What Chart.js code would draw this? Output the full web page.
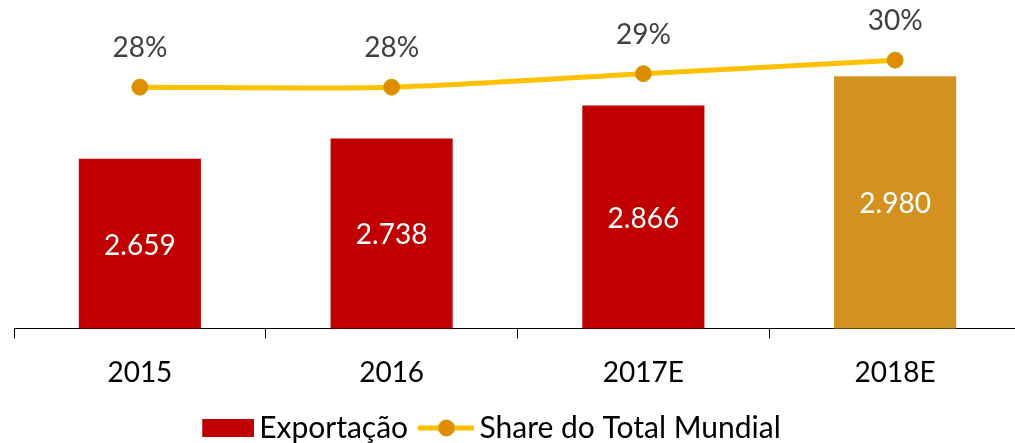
<!DOCTYPE html>
<html>
<head>
<meta charset="utf-8">
<script src="https://cdn.jsdelivr.net/npm/chart.js@4.4.0/dist/chart.umd.min.js"></script>
<style>
  html, body { margin: 0; padding: 0; background: #fff; overflow: hidden; }
  #wrap { width: 1021px; height: 443px; }
</style>
</head>
<body>
<div id="wrap"><canvas id="chart"></canvas></div>
<script>
const categories = ['2015', '2016', '2017E', '2018E'];
const exportacao = [2659, 2738, 2866, 2980];
const share = [28, 28, 29, 30];
const barColors = ['#C00000', '#C00000', '#C00000', '#D3921F'];

const FONT = 'Lato, "Open Sans", sans-serif';

function legendIcon(kind) {
    const c = document.createElement('canvas');
    c.width = 56;
    c.height = 20;
    const g = c.getContext('2d');
    if (kind === 'bar') {
        g.fillStyle = '#C00000';
        g.fillRect(4, 1, 52, 18);
    } else {
        g.strokeStyle = '#FFC000';
        g.lineWidth = 5;
        g.beginPath();
        g.moveTo(0, 10);
        g.lineTo(56, 10);
        g.stroke();
        g.fillStyle = '#E08C00';
        g.strokeStyle = '#C8A400';
        g.lineWidth = 1;
        g.beginPath();
        g.arc(28, 10, 8, 0, Math.PI * 2);
        g.fill();
        g.stroke();
    }
    return c;
}

// labels drawn on top: values inside bars, percentages above the points
const valueLabels = {
    id: 'valueLabels',
    afterDatasetsDraw(chart) {
        const ctx = chart.ctx;
        const area = chart.chartArea;
        ctx.save();
        ctx.textAlign = 'center';
        ctx.textBaseline = 'middle';
        ctx.font = '28px ' + FONT;

        const bars = chart.getDatasetMeta(1).data;
        bars.forEach((bar, i) => {
            ctx.fillStyle = '#FFFFFF';
            const txt = exportacao[i].toLocaleString('pt-BR');
            const base = Math.min(bar.base, area.bottom);
            ctx.fillText(txt, bar.x, (bar.y + base) / 2 + 2);
        });

        const pts = chart.getDatasetMeta(0).data;
        pts.forEach((p, i) => {
            ctx.fillStyle = '#404040';
            ctx.fillText(share[i] + '%', p.x, p.y - 39);
        });
        ctx.restore();
    }
};

const ctx = document.getElementById('chart').getContext('2d');
new Chart(ctx, {
    data: {
        labels: categories,
        datasets: [
            {
                type: 'line',
                label: 'Share do Total Mundial',
                data: share,
                yAxisID: 'y2',
                borderColor: '#FFC000',
                borderWidth: 5,
                tension: 0.3,
                pointRadius: 8,
                pointBackgroundColor: '#E08C00',
                pointBorderColor: '#C8A400',
                pointBorderWidth: 1,
                order: 0
            },
            {
                type: 'bar',
                label: 'Exportação',
                data: exportacao,
                yAxisID: 'y',
                backgroundColor: barColors,
                categoryPercentage: 0.97,
                barPercentage: 0.5,
                order: 1
            }
        ]
    },
    options: {
        responsive: true,
        maintainAspectRatio: false,
        animation: false,
        layout: { autoPadding: false, padding: { top: 10, left: 14, right: 0, bottom: -10 } },
        plugins: {
            tooltip: { enabled: false },
            legend: {
                position: 'bottom',
                labels: {
                    usePointStyle: true,
                    pointStyleWidth: 36,
                    boxHeight: 18,
                    padding: 5,
                    color: '#000000',
                    font: { family: FONT, size: 30 },
                    generateLabels(chart) {
                        // trailing spaces only widen the gaps between items
                        return [
                            { text: 'Exportação  ', pointStyle: legendIcon('bar'), datasetIndex: 1, fillStyle: '#C00000', strokeStyle: '#C00000', lineWidth: 0 },
                            { text: 'Share do Total Mundial      ', pointStyle: legendIcon('line'), datasetIndex: 0, fillStyle: '#FFC000', strokeStyle: '#FFC000', lineWidth: 0 }
                        ];
                    }
                }
            }
        },
        scales: {
            x: {
                grid: {
                    display: true,
                    drawOnChartArea: false,
                    drawTicks: true,
                    tickLength: 10,
                    color: '#000000',
                    offset: true
                },
                border: { display: true, color: '#000000', width: 1 },
                ticks: {
                    color: '#000000',
                    font: { family: FONT, size: 28 },
                    padding: 18
                }
            },
            y: {
                display: false,
                min: 2000,
                max: 3237
            },
            y2: {
                display: false,
                min: 10.15,
                max: 33.71
            }
        }
    },
    plugins: [valueLabels]
});
</script>
</body>
</html>
